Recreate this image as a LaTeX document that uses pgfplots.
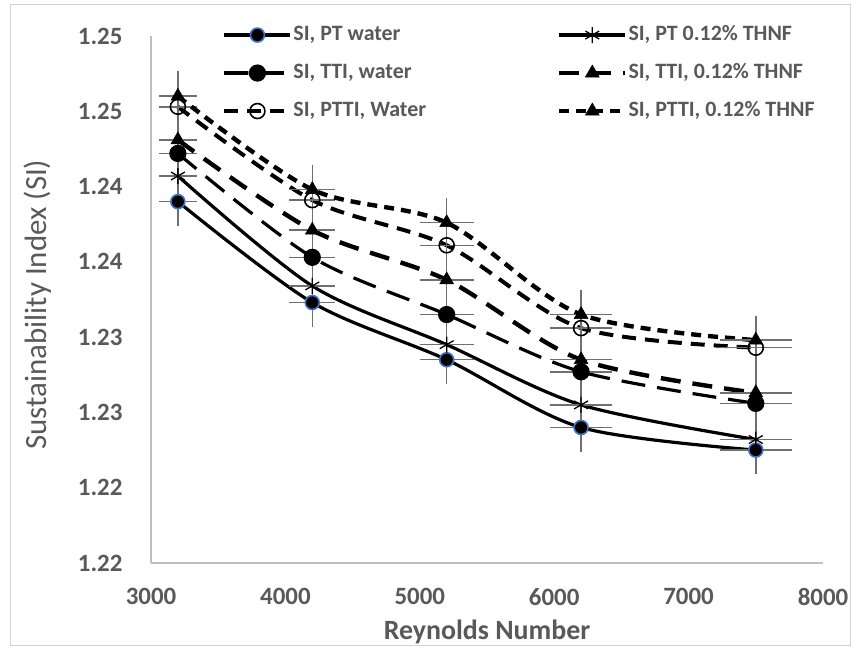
\documentclass[border=0pt]{standalone}
\usepackage{pgfplots}
\pgfplotsset{compat=1.18}
\usepackage{fontspec}
\setmainfont{Carlito}
\definecolor{txtgray}{HTML}{595959}
\definecolor{axgray}{HTML}{BFBFBF}
\definecolor{errgray}{HTML}{6F6F6F}
\definecolor{ptblue}{HTML}{4472C4}

\pgfplotstableread{
re    ptw     ptn     ttiw    ttin    pttiw   pttin
3200  1.2390  1.2407  1.2422  1.2431  1.2453  1.2460
4200  1.2323  1.2334  1.2353  1.2371  1.2391  1.2398
5200  1.2285  1.2295  1.2315  1.2338  1.2361  1.2376
6200  1.2240  1.2255  1.2277  1.2285  1.2306  1.2315
7500  1.2225  1.2232  1.2256  1.2263  1.2293  1.2298
}\sidata

\pgfplotsset{
  sierr/.style={error bars/.cd,
    x dir=both, x fixed relative=0.03,
    y dir=both, y fixed relative=0.001,
    error bar style={color=errgray, line width=1.5bp, solid},
    error mark options={color=errgray, line width=1.5bp, mark size=6bp, solid}},
}

\begin{document}
\begin{tikzpicture}
\useasboundingbox (0bp,0bp) rectangle (858bp,651bp);
\fill[white] (0bp,0bp) rectangle (858bp,651bp);
\draw[axgray!70, line width=1bp] (10bp,5bp) rectangle (850bp,646bp);
\begin{axis}[
  at={(151bp,88bp)}, anchor=south west,
  scale only axis, width=672bp, height=527bp,
  xmin=3000, xmax=8000, ymin=1.215, ymax=1.25,
  axis lines=left,
  axis line style={-, draw=axgray, line width=1.2bp},
  xtick={3000,4000,5000,6000,7000,8000},
  xticklabels={3000,4000,5000,6000,7000,8000},
  ytick={1.215,1.22,1.225,1.23,1.235,1.24,1.245,1.25},
  yticklabels={1.22,1.22,1.23,1.23,1.24,1.24,1.25,1.25},
  major tick length=0pt,
  tick label style={font=\fontsize{25}{30}\selectfont\bfseries, text=txtgray},
  yticklabel style={xshift=-25bp},
  xticklabel style={yshift=-22bp},
  xlabel={Reynolds Number},
  ylabel={Sustainability Index (SI)},
  xlabel style={font=\fontsize{28}{32}\selectfont\bfseries, text=txtgray, yshift=-7bp},
  ylabel style={font=\fontsize{31}{34}\selectfont, text=txtgray, yshift=20bp, xshift=-5bp},
  clip=false,
  legend columns=2,
  legend cell align=left,
  legend style={at={(axis description cs:0.106,1.024)}, anchor=north west,
    draw=none, fill=none, inner sep=0pt,
    font=\fontsize{22}{26}\selectfont\bfseries, text=txtgray,
    nodes={inner sep=1bp, text height=16bp, text depth=5bp},
    row sep=15bp,
    /tikz/every even column/.append style={column sep=130bp}},
  legend image code/.code={
    \draw[mark repeat=2, mark phase=2, #1]
      plot coordinates {(0bp,0bp) (33bp,0bp) (66bp,0bp)};},
]
\addplot[black, smooth, tension=0.5, line width=3.2bp, mark=*, mark size=7bp,
  mark options={solid, fill=black, draw=ptblue, line width=1.6bp}, sierr]
  table[x=re, y=ptw] {\sidata};
\addlegendentry{SI, PT water}
\addplot[black, smooth, tension=0.5, line width=3.2bp, mark=asterisk, mark size=8bp,
  mark options={solid, draw=black, line width=1.3bp}, sierr]
  table[x=re, y=ptn] {\sidata};
\addlegendentry{SI, PT 0.12\% THNF}
\addplot[black, smooth, tension=0.5, line width=3.2bp, dash pattern=on 24bp off 12bp,
  mark=*, mark size=7bp, mark options={solid, fill=black, draw=black}, sierr]
  table[x=re, y=ttiw] {\sidata};
\addlegendentry{SI, TTI, water}
\addplot[black, smooth, tension=0.5, line width=4.4bp, dash pattern=on 20bp off 12bp,
  mark=triangle*, mark size=8bp, mark options={solid, fill=black, draw=black, line width=0.5bp}, sierr]
  table[x=re, y=ttin] {\sidata};
\addlegendentry{SI, TTI, 0.12\% THNF}
\addplot[black, smooth, tension=0.5, line width=4bp, dash pattern=on 14bp off 9bp,
  mark=o, mark size=7.5bp, mark options={solid, draw=black, line width=1.6bp}, sierr]
  table[x=re, y=pttiw] {\sidata};
\addlegendentry{SI, PTTI, Water}
\addplot[black, smooth, tension=0.5, line width=4.4bp, dash pattern=on 10bp off 7bp,
  mark=triangle*, mark size=8bp, mark options={solid, fill=black, draw=black, line width=0.5bp}, sierr]
  table[x=re, y=pttin] {\sidata};
\addlegendentry{SI, PTTI, 0.12\% THNF}
\end{axis}
\end{tikzpicture}
\end{document}
